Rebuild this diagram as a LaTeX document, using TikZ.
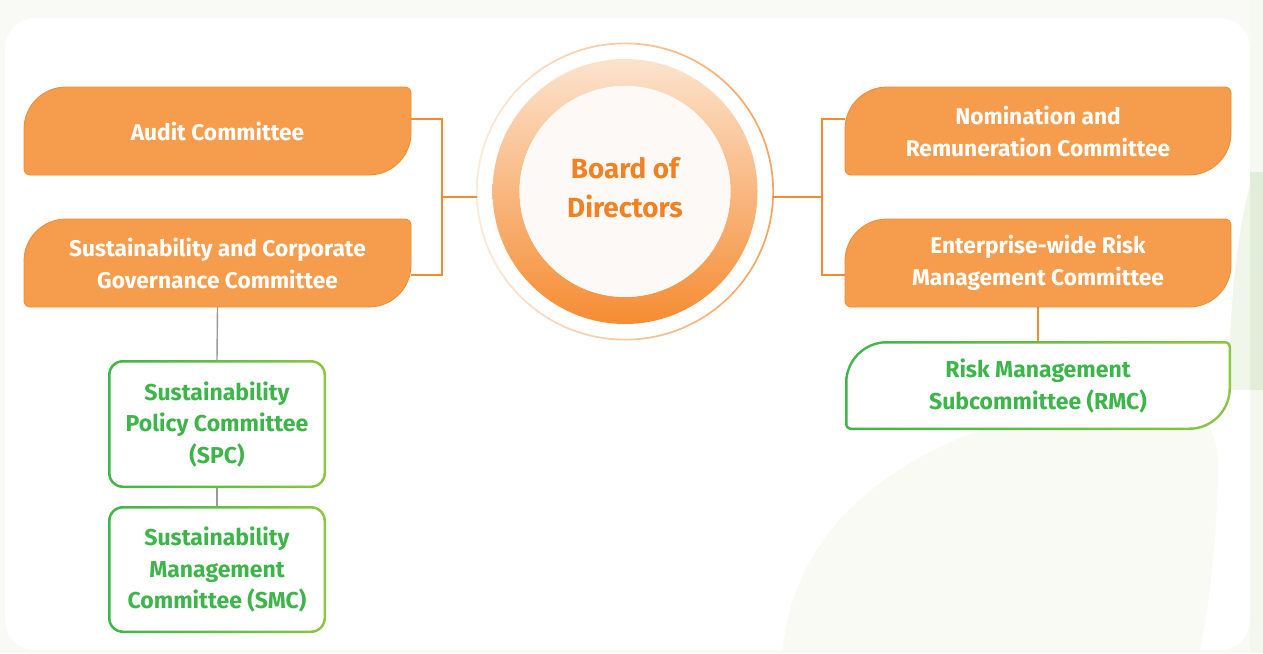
\documentclass[tikz,border=0pt]{standalone}
\usepackage{fontspec}
\setmainfont{Fira Sans}
\usetikzlibrary{calc,backgrounds}

\definecolor{pagebg}{HTML}{F9F9F5}
\definecolor{striptop}{HTML}{F6F8F2}
\definecolor{leafdark}{HTML}{E0EDD8}
\definecolor{striplow}{HTML}{F3F7EE}
\definecolor{leaflight}{HTML}{F1F6EB}
\definecolor{leafpale}{HTML}{F8FAF3}
\definecolor{ofill}{HTML}{F69C4D}
\definecolor{oedge}{HTML}{F18B30}
\definecolor{lineorange}{HTML}{F18B30}
\definecolor{linegray}{HTML}{9A9A9A}
\definecolor{gtext}{HTML}{3DB54A}
\definecolor{gleft}{HTML}{3DB54A}
\definecolor{gright}{HTML}{8DC63F}
\definecolor{boardtext}{HTML}{F08224}
\definecolor{ringtop}{HTML}{FCE3CD}
\definecolor{ringbot}{HTML}{F58C33}
\definecolor{thinleft}{HTML}{FDE9D8}
\definecolor{thinright}{HTML}{F5A45F}
\definecolor{diskfill}{HTML}{FDF9F6}

% box with two large opposite corners (top left, bottom right) and two small ones;
% #1 options, #2 node, #3 large radius, #4 small radius, #5 inset
\newcommand\leafshape[5]{%
  \path[#1] ($(#2.north west)+(#5,{-#3})$) arc[start angle=180,end angle=90,radius={#3-#5}]
    -- ($(#2.north east)+({-#4},{-#5})$) arc[start angle=90,end angle=0,radius={#4-#5}]
    -- ($(#2.south east)+({-#5},{#3})$) arc[start angle=0,end angle=-90,radius={#3-#5}]
    -- ($(#2.south west)+({#4},{#5})$) arc[start angle=270,end angle=180,radius={#4-#5}]
    -- cycle;}
% rounded rectangle around a node; #1 options, #2 node, #3 radius, #4 inset
\newcommand\roundshape[4]{%
  \path[#1, rounded corners={#3-#4}] ($(#2.north west)+(#4,-#4)$) rectangle ($(#2.south east)+(-#4,#4)$);}

\begin{document}
\begin{tikzpicture}[x=1pt,y=1pt,
  obox/.style={rectangle, inner sep=0pt, outer sep=0pt, minimum width=387pt,
    minimum height=88pt, text=white, align=center,
    font=\fontsize{22.7}{32}\selectfont\bfseries},
  gbox/.style={rectangle, inner sep=0pt, outer sep=0pt, minimum width=218pt,
    text=gtext, align=center, font=\fontsize{23}{31.5}\selectfont\bfseries},
  link/.style={draw=lineorange, line width=1.4pt},
  glink/.style={draw=linegray, line width=1.4pt}]
\useasboundingbox (0,0) rectangle (1263,-653);

% committees
\node[obox] (audit) at (217.5,-131) {Audit Committee};
\node[obox] (scg) at (217.5,-263) {Sustainability and Corporate\\Governance Committee};
\node[obox, minimum width=386pt] (nrc) at (1038,-131) {Nomination and\\Remuneration Committee};
\node[obox, minimum width=386pt] (ermc) at (1038,-263) {Enterprise-wide Risk\\Management Committee};
\node[obox, minimum width=386pt, minimum height=89pt, text=gtext,
  font=\fontsize{23}{32}\selectfont\bfseries] (rmc) at (1038,-385.5)
  {Risk Management\\Subcommittee (RMC)};
\node[gbox, minimum height=128pt] (spc) at (217,-424) {Sustainability\\Policy Committee\\(SPC)};
\node[gbox, minimum height=127pt] (smc) at (217,-569.5) {Sustainability\\Management\\Committee (SMC)};

% board
\node[circle, minimum size=296pt, inner sep=0pt, outer sep=0pt] (board) at (625,-191.5) {};
\node[text=boardtext, align=center, inner sep=0pt,
  font=\fontsize{27.8}{39}\selectfont\bfseries] (boardlabel) at ($(board.center)+(0,3.5)$)
  {Board of\\Directors};

% connectors
\coordinate (lj) at (442,-197);
\coordinate (rj) at (822,-197);
\draw[link] ($(audit.east)+(0,12)$) -| (lj);
\draw[link] ($(scg.east)+(0,-12)$) -| (lj);
\draw[link] (lj) -- (lj -| board.west);
\draw[link] ($(nrc.west)+(0,12)$) -| (rj);
\draw[link] ($(ermc.west)+(0,-12)$) -| (rj);
\draw[link] (rj) -- (rj -| board.east);
\draw[link] (ermc.south) -- (rmc.north);
\draw[glink] (scg.south) -- (spc.north);
\draw[glink] (spc.south) -- (smc.north);

\begin{pgfonlayer}{background}
  % page and card
  \fill[pagebg] (0,0) rectangle (1263,-653);
  \fill[striptop] (1250,0) rectangle (1263,-172);
  \fill[leafdark] (1250,-172) rectangle (1263,-390);
  \fill[striplow] (1250,-390) rectangle (1263,-653);
  \fill[white, rounded corners=30] (5,-18) rectangle (1250,-650);
  % soft leaves
  \fill[leaflight] (1229,-390) .. controls (1229,-300) and (1238,-230) .. (1250,-185) -- (1250,-390) -- cycle;
  \fill[leafpale] (783,-650) .. controls (795,-510) and (930,-425) .. (1090,-405)
    .. controls (1180,-395) and (1219,-405) .. (1218,-470)
    .. controls (1216,-560) and (1206,-620) .. (1200,-650) -- cycle;

  % board rings
  \shade[even odd rule, left color=thinleft, right color=thinright]
    (board.center) circle (149) (board.center) circle (147.3);
  \shade[even odd rule, top color=ringtop, bottom color=ringbot]
    (board.center) circle (132.5) (board.center) circle (105.5);
  \fill[diskfill] (board.center) circle (105.5);

  % orange committee boxes
  \leafshape{fill=ofill, draw=oedge, line width=0.8pt}{audit}{42}{6}{0}
  \leafshape{fill=ofill, draw=oedge, line width=0.8pt}{scg}{42}{6}{0}
  \leafshape{fill=ofill, draw=oedge, line width=0.8pt}{nrc}{42}{6}{0}
  \leafshape{fill=ofill, draw=oedge, line width=0.8pt}{ermc}{42}{6}{0}

  % green subcommittee boxes
  \leafshape{left color=gleft, right color=gright}{rmc}{42}{6}{0}
  \leafshape{fill=white}{rmc}{42}{6}{2.5}
  \roundshape{left color=gleft, right color=gright}{spc}{15}{0}
  \roundshape{fill=white}{spc}{15}{2.5}
  \roundshape{left color=gleft, right color=gright}{smc}{15}{0}
  \roundshape{fill=white}{smc}{15}{2.5}
\end{pgfonlayer}
\end{tikzpicture}
\end{document}
